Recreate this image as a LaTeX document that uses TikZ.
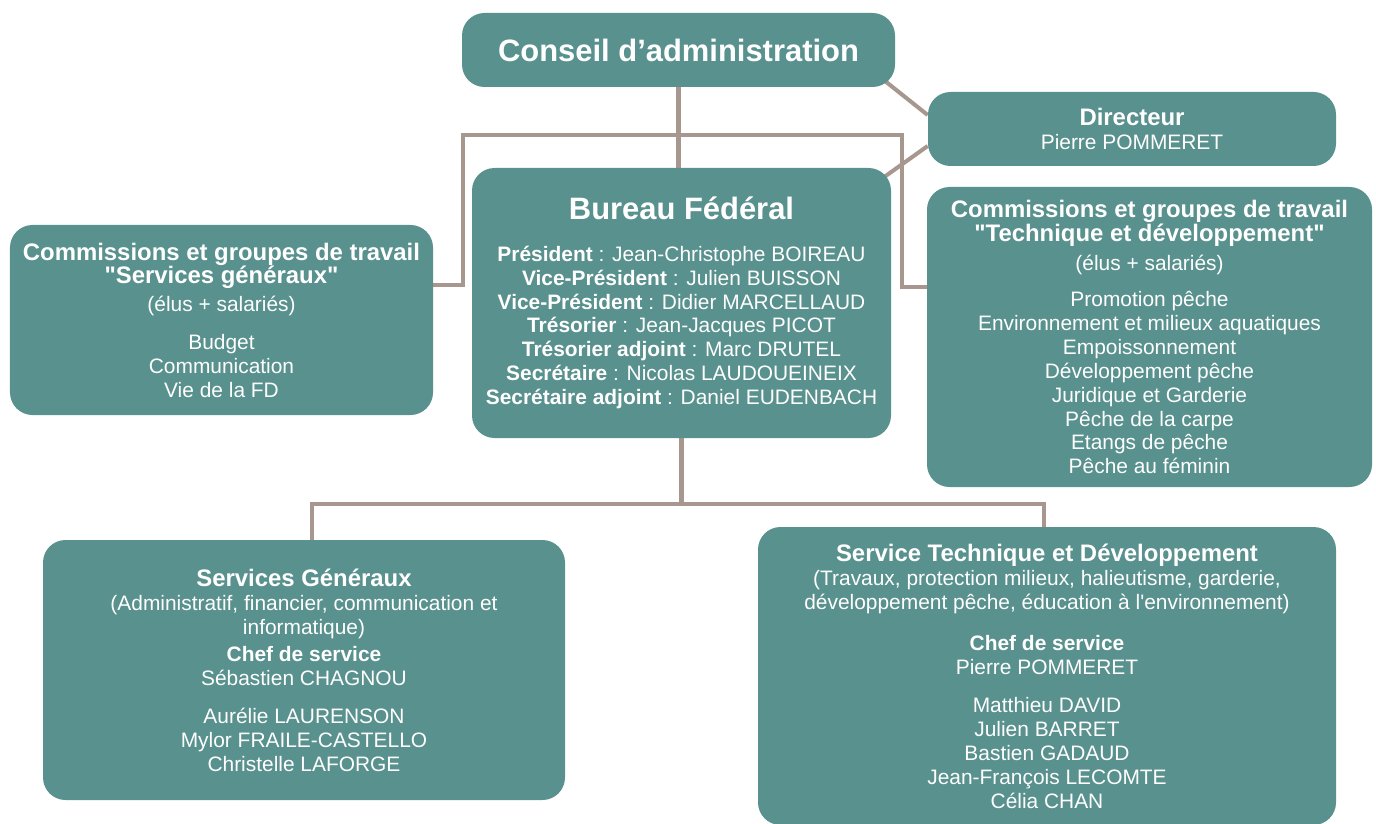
\documentclass[tikz,border=0pt]{standalone}
\usepackage{fontspec}
\setmainfont{Liberation Sans}[Ligatures=TeXOff]
\usetikzlibrary{backgrounds}

\definecolor{fdteal}{RGB}{88,145,141}
\definecolor{fdtaupe}{RGB}{168,151,143}

\newcommand{\bodyfont}{\fontsize{11.9}{13.6}\selectfont}
\newcommand{\headfont}{\fontsize{13.6}{15.2}\selectfont\bfseries}
\newcommand{\bigfont}{\fontsize{17.6}{20}\selectfont\bfseries}

\tikzset{
  unit/.style={fill=fdteal, rounded corners=0.45cm, text=white, align=center,
               inner sep=0pt, font=\bodyfont},
  link/.style={draw=fdtaupe, line width=2.3pt},
}

\begin{document}
\begin{tikzpicture}
	\useasboundingbox (0,0) rectangle (27.52,-16.46);
	% Top level
	\node[unit, minimum width=8.66cm, minimum height=1.48cm] at (13.57,-1.00) (conseil)
		{{\bigfont Conseil d’administration}};
	\node[unit, minimum width=8.16cm, minimum height=1.48cm] at (22.64,-2.58) (directeur)
		{{\headfont Directeur}\\ Pierre POMMERET};
	% Bureau
	\node[unit, minimum width=8.38cm, minimum height=5.40cm] at (13.63,-6.06) (bureau)
		{{\bigfont Bureau Fédéral}\\[10pt]
		 \textbf{Président} : Jean-Christophe BOIREAU\\
		 \textbf{Vice-Président} : Julien BUISSON\\
		 \textbf{Vice-Président} : Didier MARCELLAUD\\
		 \textbf{Trésorier} : Jean-Jacques PICOT\\
		 \textbf{Trésorier adjoint} : Marc DRUTEL\\
		 \textbf{Secrétaire} : Nicolas LAUDOUEINEIX\\
		 \textbf{Secrétaire adjoint} : Daniel EUDENBACH};
	% Commissions
	\node[unit, minimum width=8.46cm, minimum height=3.80cm] at (4.43,-6.40) (cgsg)
		{{\headfont Commissions et groupes de travail}\\
		 {\headfont "Services généraux"}\\[2pt]
		 (élus + salariés)\\[8pt]
		 Budget\\ Communication\\ Vie de la FD};
	\node[unit, minimum width=8.90cm, minimum height=6.00cm] at (22.99,-6.74) (cgtd)
		{{\headfont Commissions et groupes de travail}\\
		 {\headfont "Technique et développement"}\\[3pt]
		 (élus + salariés)\\[7pt]
		 Promotion pêche\\ Environnement et milieux aquatiques\\ Empoissonnement\\
		 Développement pêche\\ Juridique et Garderie\\ Pêche de la carpe\\
		 Etangs de pêche\\ Pêche au féminin};
	% Services
	\node[unit, minimum width=10.44cm, minimum height=5.20cm] at (6.08,-13.40) (sg)
		{{\headfont Services Généraux}\\
		 (Administratif, financier, communication et\\ informatique)\\[2pt]
		 \textbf{Chef de service}\\ Sébastien CHAGNOU\\[8pt]
		 Aurélie LAURENSON\\ Mylor FRAILE-CASTELLO\\ Christelle LAFORGE};
	\node[unit, minimum width=11.56cm, minimum height=5.96cm] at (20.94,-13.52) (std)
		{{\headfont Service Technique et Développement}\\
		 (Travaux, protection milieux, halieutisme, garderie,\\
		 développement pêche, éducation à l'environnement)\\[10pt]
		 \textbf{Chef de service}\\ Pierre POMMERET\\[8pt]
		 Matthieu DAVID\\ Julien BARRET\\ Bastien GADAUD\\
		 Jean-François LECOMTE\\ Célia CHAN};
	%---------------------%
	\coordinate (barL) at (9.26,-2.70);
	\coordinate (barR) at (18.04,-2.70);
	\coordinate (hookL) at (9.26,-5.70);
	\coordinate (hookR) at (18.04,-5.74);
	\coordinate (bus) at (13.63,-10.08);
	\begin{pgfonlayer}{background}
		% Conseil -> Bureau and commissions
		\draw[link] (conseil.south) -- (conseil.south |- bureau.north);
		\draw[link] (cgsg.east |- hookL) -| (barL) -- (barR) |- (cgtd.west |- hookR);
		% Directeur
		\draw[link] ([xshift=-0.3cm,yshift=0.2cm]conseil.south east) -- ([yshift=0.28cm]directeur.west);
		\draw[link] ([yshift=-0.34cm]directeur.west) -- ([xshift=-0.3cm,yshift=-0.3cm]bureau.north east);
		% Bureau -> Services
		\draw[link] (bureau.south) -- (bureau.south |- bus);
		\draw[link] ([xshift=0.16cm]sg.north) |- (bus) -| ([xshift=-0.06cm]std.north);
	\end{pgfonlayer}
	%---------------------%
\end{tikzpicture}
\end{document}
